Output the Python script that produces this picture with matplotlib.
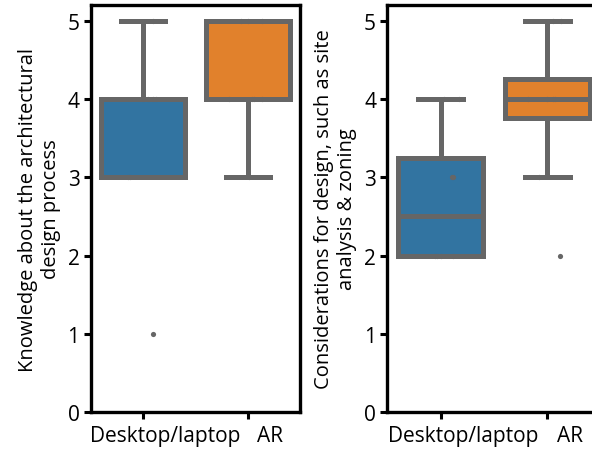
"""Boxplots: desktop/laptop vs AR for two survey questions."""

import matplotlib

matplotlib.use("Agg")
import matplotlib.pyplot as plt  # noqa: E402

plt.rcParams["font.family"] = ["Open Sans", "DejaVu Sans"]

GROUPS = ["Desktop/laptop", "AR"]
COLORS = ["#3274a1", "#e1812c"]
LINE = "#666666"

# panel 1: knowledge about the design process
knowledge_desktop = [1, 3, 3, 4, 4, 4, 4, 5]
knowledge_ar = [3, 4, 4, 4, 4, 5, 5, 5]
# panel 2: considerations such as site analysis & zoning
site_desktop = [2, 2, 2, 2, 3, 3, 4, 4]
site_ar = [2, 3, 4, 4, 4, 4, 5, 5]

# horizontal offsets of the strip points (stand-in for jitter)
knowledge_desktop_jit = [0.10, -0.14, -0.12, 0.0, 0.05, 0.10, 0.12, 0.10]
knowledge_ar_jit = [0.01, -0.18, 0.04, 0.14, 0.06, -0.06, 0.14, 0.0]
site_desktop_jit = [-0.05, -0.03, 0.12, 0.0, 0.12, 0.11, 0.03, 0.17]
site_ar_jit = [0.12, -0.08, -0.18, 0.07, 0.0, 0.05, 0.05, 0.13]

YLABELS = [
    "Knowledge about the architectural\ndesign process",
    "Considerations for design, such as site\nanalysis & zoning",
]


def draw_panel(ax, series, jitters, ylabel):
    lw = 3.6
    bp = ax.boxplot(
        series,
        positions=[0, 1],
        widths=0.8,
        patch_artist=True,
        showfliers=False,
        whis=1.5,
        boxprops=dict(linewidth=lw, edgecolor=LINE),
        whiskerprops=dict(linewidth=lw, color=LINE),
        capprops=dict(linewidth=lw, color=LINE),
        medianprops=dict(linewidth=lw, color=LINE),
        capwidths=0.42,
    )
    for patch, c in zip(bp["boxes"], COLORS):
        patch.set_facecolor(c)
    for i, (vals, jit) in enumerate(zip(series, jitters)):
        ax.scatter(
            [i + j for j in jit], vals, s=14, color="#666666", zorder=5,
            linewidths=0,
        )
    ax.set_xlim(-0.5, 1.5)
    ax.set_ylim(0, 5.2)
    ax.set_yticks([0, 1, 2, 3, 4, 5])
    ax.set_xticks([0, 1])
    ax.set_xticklabels([])
    # category names sit a little right of their ticks, as in the source figure
    for i, g in enumerate(GROUPS):
        ax.annotate(
            g, xy=(i, 0), xycoords=("data", "axes fraction"),
            xytext=(16, -9), textcoords="offset points",
            ha="center", va="top", fontsize=15,
        )
    ax.tick_params(labelsize=15, length=5, width=2.2, pad=3)
    ax.set_ylabel(ylabel, fontsize=14.5, labelpad=5)
    for sp in ax.spines.values():
        sp.set_linewidth(2.4)


fig = plt.figure(figsize=(5.92, 4.56), dpi=100)
ax1 = fig.add_axes([0.153, 0.094, 0.354, 0.893])
ax2 = fig.add_axes([0.654, 0.094, 0.361, 0.893])

draw_panel(ax1, [knowledge_desktop, knowledge_ar],
           [knowledge_desktop_jit, knowledge_ar_jit], YLABELS[0])
draw_panel(ax2, [site_desktop, site_ar],
           [site_desktop_jit, site_ar_jit], YLABELS[1])

fig.savefig("out.png", dpi=100)
